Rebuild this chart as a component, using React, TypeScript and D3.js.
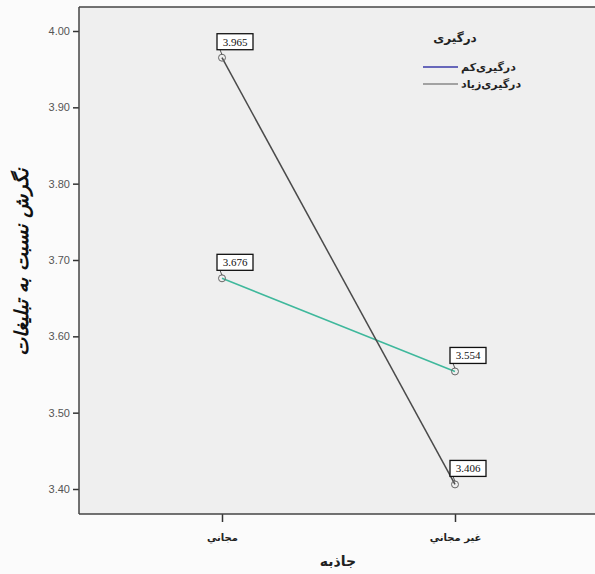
import React, { useEffect, useRef } from 'react';
import * as d3 from 'd3';

// categories on the x axis
const categories = ['مجاني', 'غير مجاني'];
// series: engagement level
const seriesNames = ['درگیری‌کم', 'درگیری‌زیاد'];
const lowValues = [3.676, 3.554];
const highValues = [3.965, 3.406];
const yTicks = [3.4, 3.5, 3.6, 3.7, 3.8, 3.9, 4.0];

const App = () => {
    const ref = useRef<SVGSVGElement>(null);

    useEffect(() => {
        const svg = d3.select(ref.current);
        svg.selectAll('*').remove();

        const W = 595, H = 574;
        const frame = { left: 79, top: 7, right: 595, bottom: 514 };

        svg.append('rect').attr('width', W).attr('height', H).attr('fill', '#fbfbfb');
        svg.append('rect')
            .attr('x', frame.left).attr('y', frame.top)
            .attr('width', frame.right - frame.left).attr('height', frame.bottom - frame.top)
            .attr('fill', '#efefef');

        const y = d3.scaleLinear().domain([3.4, 4.0]).range([489, 31]);
        const x = d3.scalePoint<string>().domain(categories).range([222, 455]);

        // frame lines
        svg.append('line').attr('x1', frame.left).attr('x2', frame.right)
            .attr('y1', frame.top).attr('y2', frame.top).attr('stroke', '#444').attr('stroke-width', 1.5);

        // Y axis
        const yAxis = svg.append('g')
            .attr('transform', `translate(${frame.left},0)`)
            .call(d3.axisLeft(y).tickValues(yTicks).tickFormat(d3.format('.2f')).tickSize(6).tickPadding(3));
        yAxis.select('.domain').remove();
        yAxis.selectAll('line').attr('stroke', '#333').attr('stroke-width', 1.5);
        yAxis.selectAll('text').attr('fill', '#555').style('font-family', 'Liberation Sans').style('font-size', '11px');
        svg.append('line').attr('x1', frame.left).attr('x2', frame.left)
            .attr('y1', frame.top).attr('y2', frame.bottom).attr('stroke', '#444').attr('stroke-width', 1.5);

        // X axis
        const xAxis = svg.append('g')
            .attr('transform', `translate(0,${frame.bottom})`)
            .call(d3.axisBottom(x).tickSize(8).tickPadding(12));
        xAxis.select('.domain').remove();
        xAxis.selectAll('line').attr('stroke', '#333').attr('stroke-width', 1.5);
        xAxis.selectAll('text').attr('fill', '#222').style('font-family', 'DejaVu Sans')
            .style('font-size', '10px').style('font-weight', 'bold');
        svg.append('line').attr('x1', frame.left).attr('x2', frame.right)
            .attr('y1', frame.bottom).attr('y2', frame.bottom).attr('stroke', '#444').attr('stroke-width', 1.5);

        // axis titles
        svg.append('text').attr('x', 338).attr('y', 566).attr('text-anchor', 'middle')
            .style('font-family', 'DejaVu Sans').style('font-size', '14px').style('font-weight', 'bold')
            .attr('fill', '#222').text('جاذبه');
        svg.append('text').attr('transform', 'translate(28,262) rotate(-90)').attr('text-anchor', 'middle')
            .style('font-family', 'DejaVu Sans').style('font-size', '19px').style('font-weight', 'bold')
            .style('font-style', 'italic').attr('fill', '#111').text('نگرش نسبت به تبلیغات');

        const line = d3.line<number>().x((_, i) => x(categories[i]) as number).y(d => y(d));

        const series = [
            { values: lowValues, color: '#3fb89c' },
            { values: highValues, color: '#4a4a4a' },
        ];

        series.forEach(s => {
            svg.append('path').datum(s.values).attr('d', line)
                .attr('fill', 'none').attr('stroke', s.color).attr('stroke-width', 1.5);
        });

        // markers and value labels
        series.forEach(s => {
            s.values.forEach((v, i) => {
                const cx = x(categories[i]) as number;
                const cy = y(v);
                svg.append('circle').attr('cx', cx).attr('cy', cy).attr('r', 3.5)
                    .attr('fill', 'none').attr('stroke', '#666').attr('stroke-width', 1);
                svg.append('line').attr('x1', cx).attr('y1', cy - 3)
                    .attr('x2', cx - 2).attr('y2', cy - 8).attr('stroke', '#555').attr('stroke-width', 1);
                const bx = cx - 5, by = cy - 24;
                svg.append('rect').attr('x', bx).attr('y', by).attr('width', 36).attr('height', 16)
                    .attr('fill', '#fff').attr('stroke', '#111').attr('stroke-width', 1.3);
                svg.append('text').attr('x', bx + 18).attr('y', by + 12).attr('text-anchor', 'middle')
                    .style('font-family', 'Liberation Serif').style('font-size', '11px')
                    .attr('fill', '#111').text(d3.format('.3f')(v));
            });
        });

        // legend
        const lg = svg.append('g');
        lg.append('text').attr('x', 455).attr('y', 42).attr('text-anchor', 'middle')
            .style('font-family', 'DejaVu Sans').style('font-size', '12px').style('font-weight', 'bold')
            .attr('fill', '#222').text('درگیری');
        const legendColors = ['#3a3aa8', '#888'];
        seriesNames.forEach((n, i) => {
            const ly = 67 + i * 17;
            lg.append('line').attr('x1', 423).attr('x2', 458).attr('y1', ly).attr('y2', ly)
                .attr('stroke', legendColors[i]).attr('stroke-width', 1.5);
            lg.append('text').attr('x', 461).attr('y', ly + 4).attr('text-anchor', 'start')
                .attr('direction', 'ltr')
                .style('font-family', 'DejaVu Sans').style('font-size', '11px').style('font-weight', 'bold')
                .attr('fill', '#222').text(n);
        });
    }, []);

    return (
        <svg ref={ref} width={595} height={574}
            style={{ position: 'absolute', left: 0, top: 0, display: 'block' }} />
    );
};

export default App;
